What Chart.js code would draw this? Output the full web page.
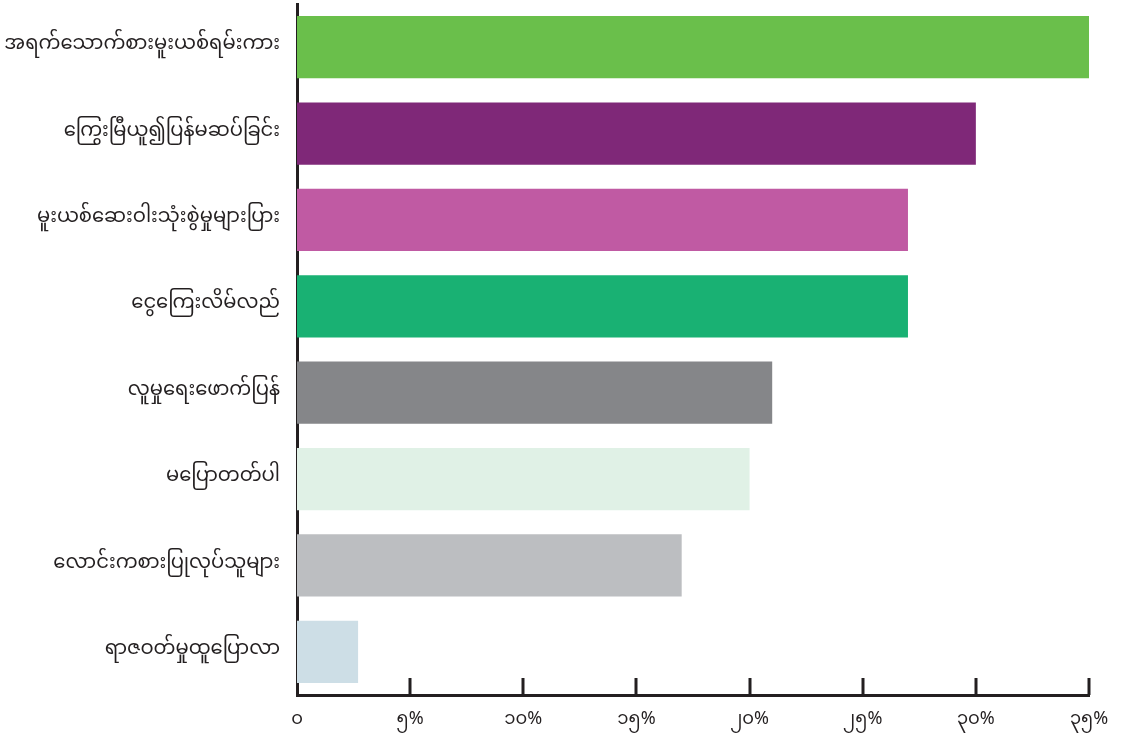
<!DOCTYPE html>
<html>
<head>
<meta charset="utf-8">
<script src="https://cdn.jsdelivr.net/npm/chart.js@4.4.1/dist/chart.umd.min.js"></script>
<style>
  html, body { margin: 0; padding: 0; background: #fff; }
  canvas { display: block; }
</style>
</head>
<body>
<canvas id="myChart" width="1126" height="735"></canvas>
<script>
// data
const labels = [
  "အရက်သောက်စားမူးယစ်ရမ်းကား",
  "ကြွေးမြီယူ၍ပြန်မဆပ်ခြင်း",
  "မူးယစ်ဆေးဝါးသုံးစွဲမှုများပြား",
  "ငွေကြေးလိမ်လည်",
  "လူမှုရေးဖောက်ပြန်",
  "မပြောတတ်ပါ",
  "လောင်းကစားပြုလုပ်သူများ",
  "ရာဇဝတ်မှုထူပြောလာ"
];
const percents = [35, 30, 27, 27, 21, 20, 17, 2.7];
const barColors = ["#6abf4b", "#7f2878", "#c05aa3", "#19b173", "#858689", "#e0f1e6", "#bcbec1", "#cddee6"];
const xTicks = [0, 5, 10, 15, 20, 25, 30, 35];

const myDigits = "၀၁၂၃၄၅၆၇၈၉";
function toMyanmar(n){
  return String(n).replace(/[0-9]/g, d => myDigits[d]);
}

const fontFamily = "'Noto Sans Myanmar', 'Padauk', 'Myanmar Text', 'Noto Sans', sans-serif";
const axisColor = "#231f20";

//draws the small upward ticks on the x axis
const innerTicks = {
  id: 'innerTicks',
  afterDraw(chart){
    const x = chart.scales.x;
    const c = chart.ctx;
    c.save();
    c.strokeStyle = axisColor;
    c.lineWidth = 3;
    xTicks.forEach(v => {
      if (v === 0) return;
      const px = Math.round(x.getPixelForValue(v));
      c.beginPath();
      c.moveTo(px, chart.chartArea.bottom);
      c.lineTo(px, chart.chartArea.bottom - 17);
      c.stroke();
    });
    c.restore();
  }
};

var ctx = document.getElementById('myChart').getContext('2d');
var myChart = new Chart(ctx, {
  type: 'bar',
  data: {
    labels: labels,
    datasets: [{
      data: percents,
      backgroundColor: barColors,
      borderWidth: 0,
      barPercentage: 0.72,
      categoryPercentage: 1
    }]
  },
  options: {
    indexAxis: 'y',
    responsive: false,
    animation: false,
    layout: { padding: { top: 4, right: 37, left: 0, bottom: 0 } },
    plugins: { legend: { display: false }, tooltip: { enabled: false } },
    scales: {
      x: {
        min: 0,
        max: 35,
        afterBuildTicks: s => { s.ticks = xTicks.map(v => ({ value: v })); },
        afterFit: s => { s.height = 40; },
        grid: { display: false, drawTicks: false },
        border: { display: true, color: axisColor, width: 3 },
        ticks: {
          padding: 16,
          color: "#231f20",
          font: { family: fontFamily, size: 18 },
          callback: v => v === 0 ? toMyanmar(0) : toMyanmar(v) + "%"
        }
      },
      y: {
        afterFit: s => { s.width = 297; s.paddingTop = 0; s.paddingBottom = 0; },
        grid: { display: false, drawTicks: false },
        border: { display: true, color: axisColor, width: 3 },
        ticks: {
          padding: 17,
          color: "#231f20",
          font: { family: fontFamily, size: 19.5 }
        }
      }
    }
  },
  plugins: [innerTicks]
});
</script>
</body>
</html>
